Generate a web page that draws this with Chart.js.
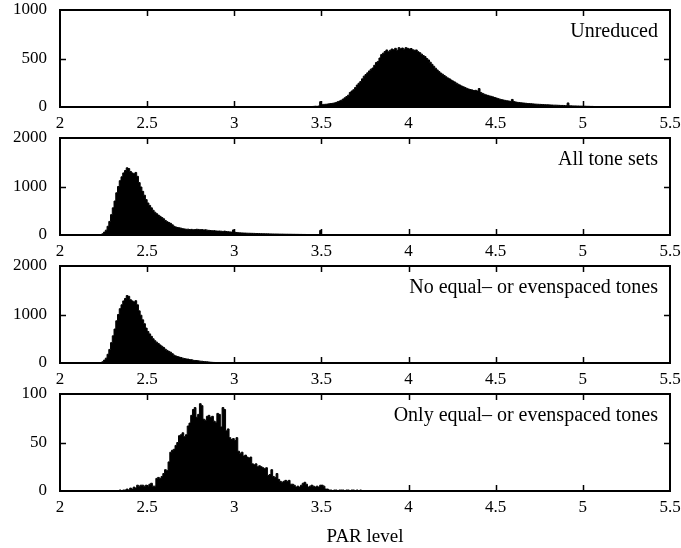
<!DOCTYPE html>
<html>
<head>
<meta charset="utf-8">
<script src="https://cdn.jsdelivr.net/npm/chart.js@4.4.1/dist/chart.umd.min.js"></script>
<style>
  body { margin: 0; background: #fff; }
  #wrap { position: relative; width: 681px; height: 548px; }
  canvas { position: absolute; left: 0; }
</style>
</head>
<body>
<div id="wrap">
  <canvas id="c0" width="681" height="128" style="top:0px"></canvas>
  <canvas id="c1" width="681" height="128" style="top:128px"></canvas>
  <canvas id="c2" width="681" height="128" style="top:256px"></canvas>
  <canvas id="c3" width="681" height="164" style="top:384px"></canvas>
</div>
<script>
const binWidth = 0.01;
const xTicks = [2, 2.5, 3, 3.5, 4, 4.5, 5, 5.5];

const panelLabels = [
  "Unreduced",
  "All tone sets",
  "No equal\u2013 or evenspaced tones",
  "Only equal\u2013 or evenspaced tones",
];
const panelMax = [1000, 2000, 2000, 100];
const panelStep = [500, 1000, 1000, 50];

// counts per PAR bin, first value belongs to the bin starting at *Start
const unreducedStart = 3.40;
const unreducedCounts = [
  2, 3, 4, 3, 5, 6, 8, 7, 10, 55,
  24, 27, 28, 30, 33, 36, 38, 42, 47, 55,
  62, 70, 82, 95, 108, 122, 150, 165, 178, 200,
  226, 245, 262, 290, 318, 335, 352, 372, 390, 402,
  430, 458, 470, 505, 540, 555, 572, 588, 570, 585,
  598, 590, 605, 585, 612, 600, 608, 596, 612, 605,
  598, 603, 590, 585, 588, 570, 560, 545, 530, 520,
  500, 485, 462, 440, 420, 400, 382, 365, 350, 338,
  325, 312, 300, 290, 278, 268, 258, 246, 235, 226,
  216, 208, 200, 192, 185, 180, 176, 170, 172, 165,
  190, 150, 140, 132, 125, 120, 114, 110, 104, 98,
  92, 86, 80, 76, 72, 68, 64, 62, 58, 78,
  56, 52, 48, 46, 44, 42, 40, 38, 36, 35,
  34, 32, 30, 29, 28, 27, 26, 25, 24, 23,
  22, 21, 20, 19, 19, 18, 17, 16, 16, 15,
  14, 42, 13, 12, 11, 11, 10, 10, 9, 9,
  8, 8, 7, 7, 6, 6, 5, 5, 5, 4,
  4, 4, 3, 3, 3, 2, 2, 2, 1, 1,
];

const allStart = 2.20;
const allCounts = [
  0, 2, 5, 10, 25, 60, 100, 180, 280, 420,
  560, 700, 870, 1000, 1120, 1200, 1280, 1330, 1385, 1370,
  1310, 1280, 1265, 1290, 1210, 1080, 990, 900, 820, 730,
  660, 610, 560, 510, 470, 440, 410, 385, 360, 335,
  300, 275, 258, 240, 210, 180, 165, 155, 148, 140,
  130, 125, 118, 120, 112, 116, 108, 112, 118, 115,
  110, 112, 105, 108, 100, 96, 92, 88, 90, 84,
  80, 82, 78, 74, 80, 72, 68, 64, 60, 105,
  56, 52, 47, 44, 42, 40, 39, 37, 36, 35,
  34, 33, 31, 30, 29, 28, 27, 26, 25, 24,
  23, 22, 21, 20, 20, 19, 18, 18, 17, 16,
  16, 15, 15, 14, 14, 13, 13, 12, 12, 11,
  11, 10, 10, 9, 9, 9, 8, 8, 8, 95,
  7, 7, 7, 6, 6, 6, 6, 5, 5, 5,
  5, 5, 4, 4, 4, 4, 4, 4, 3, 3,
  3, 3, 3, 3, 3, 3, 3, 2, 2, 2,
  2, 2, 2, 2, 2, 2, 2, 2, 2, 2,
  2, 1, 1, 1, 1, 1, 1, 1, 1, 1,
];

const noEqualStart = 2.20;
const noEqualCounts = [
  0, 2, 5, 10, 25, 60, 100, 180, 280, 420,
  560, 700, 870, 1000, 1120, 1200, 1280, 1330, 1390, 1375,
  1305, 1280, 1260, 1285, 1200, 1075, 985, 890, 810, 720,
  650, 600, 550, 500, 460, 430, 400, 372, 345, 320,
  285, 260, 240, 222, 192, 162, 145, 132, 122, 112,
  100, 92, 84, 80, 70, 68, 56, 52, 50, 44,
  38, 36, 30, 28, 24, 20, 16, 13, 11, 9,
  7, 6, 5, 4, 3, 3, 2, 2, 1, 1,
];

const onlyEqualStart = 2.34;
const onlyEqualCounts = [
  1, 0, 1, 1, 2, 1,
  3, 2, 4, 3, 6, 5, 6, 6, 5, 6,
  5, 7, 8, 5, 5, 13, 14, 13, 15, 18,
  22, 21, 30, 40, 42, 43, 47, 50, 57, 58,
  60, 56, 58, 67, 70, 78, 84, 86, 76, 79,
  90, 88, 74, 73, 77, 78, 76, 77, 72, 71,
  80, 79, 66, 86, 84, 62, 64, 55, 53, 54,
  52, 55, 41, 39, 40, 36, 37, 35, 34, 35,
  28, 27, 28, 25, 26, 25, 24, 23, 24, 16,
  17, 22, 15, 14, 18, 12, 10, 9, 10, 11,
  10, 11, 7, 7, 6, 4, 5, 4, 6, 8,
  9, 7, 4, 5, 6, 5, 4, 5, 4, 6,
  6, 5, 2, 2, 1, 1, 0, 1, 1, 0,
  1, 1, 1, 0, 1, 1, 0, 1, 1, 0,
  1, 0, 1,
];

const panelStarts = [unreducedStart, allStart, noEqualStart, onlyEqualStart];
const panelCounts = [unreducedCounts, allCounts, noEqualCounts, onlyEqualCounts];

Chart.defaults.font.family = "'Liberation Serif', 'DejaVu Serif', serif";
Chart.defaults.font.size = 17;
Chart.defaults.color = "#000";

// left bin edges plus a closing point, drawn as a filled step line
function histPoints(start, counts) {
  const pts = counts.map((c, i) => ({ x: start + i * binWidth, y: c }));
  pts.push({ x: start + counts.length * binWidth, y: 0 });
  return pts;
}

// box around the plot, inward ticks on all four sides, panel caption
const framePlugin = {
  id: "frame",
  afterDraw(chart, args, opts) {
    const { ctx, chartArea: a, scales } = chart;
    ctx.save();
    ctx.strokeStyle = "#000";
    ctx.lineWidth = 1.5;
    ctx.beginPath();
    xTicks.slice(1, -1).forEach((v) => {
      const px = Math.round(scales.x.getPixelForValue(v)) + 0.5;
      ctx.moveTo(px, a.top);
      ctx.lineTo(px, a.top + 6);
      ctx.moveTo(px, a.bottom);
      ctx.lineTo(px, a.bottom - 6);
    });
    const py = Math.round(scales.y.getPixelForValue(opts.max / 2)) + 0.5;
    ctx.moveTo(a.left, py);
    ctx.lineTo(a.left + 6, py);
    ctx.moveTo(a.right, py);
    ctx.lineTo(a.right - 6, py);
    ctx.stroke();
    ctx.lineWidth = 2;
    ctx.strokeRect(a.left, a.top, a.right - a.left, a.bottom - a.top);

    ctx.fillStyle = "#000";
    ctx.font = "20px 'Liberation Serif', 'DejaVu Serif', serif";
    ctx.textAlign = "right";
    ctx.textBaseline = "alphabetic";
    ctx.fillText(opts.label, a.right - 12, a.top + 27);
    ctx.restore();
  },
};

panelCounts.forEach((counts, i) => {
  const last = i === panelCounts.length - 1;
  new Chart(document.getElementById("c" + i), {
    type: "line",
    data: {
      datasets: [
        {
          data: histPoints(panelStarts[i], counts),
          stepped: "before",
          fill: "origin",
          backgroundColor: "#000",
          borderColor: "#000",
          borderWidth: 1,
          pointRadius: 0,
        },
      ],
    },
    options: {
      responsive: false,
      animation: false,
      events: [],
      layout: { padding: { top: 10, right: 11, left: 0, bottom: 0 } },
      plugins: {
        legend: { display: false },
        tooltip: { enabled: false },
        frame: { label: panelLabels[i], max: panelMax[i] },
      },
      scales: {
        x: {
          type: "linear",
          min: 2,
          max: 5.5,
          grid: { display: false, drawTicks: false },
          border: { display: false },
          ticks: {
            stepSize: 0.5,
            autoSkip: false,
            maxRotation: 0,
            padding: 6,
            callback: (v) => String(v),
          },
          title: {
            display: last,
            text: "PAR level",
            font: { size: 19 },
            padding: { top: 4, bottom: 0 },
          },
          afterFit: (scale) => {
            scale.height = last ? 57 : 21;
            scale.paddingLeft = 0;
            scale.paddingRight = 0;
          },
        },
        y: {
          min: 0,
          max: panelMax[i],
          grid: { display: false, drawTicks: false },
          border: { display: false },
          ticks: {
            stepSize: panelStep[i],
            padding: 13,
            callback: (v) => String(v),
          },
          afterFit: (scale) => {
            scale.width = 60;
            scale.paddingTop = 0;
            scale.paddingBottom = 0;
          },
        },
      },
    },
    plugins: [framePlugin],
  });
});
</script>
</body>
</html>
